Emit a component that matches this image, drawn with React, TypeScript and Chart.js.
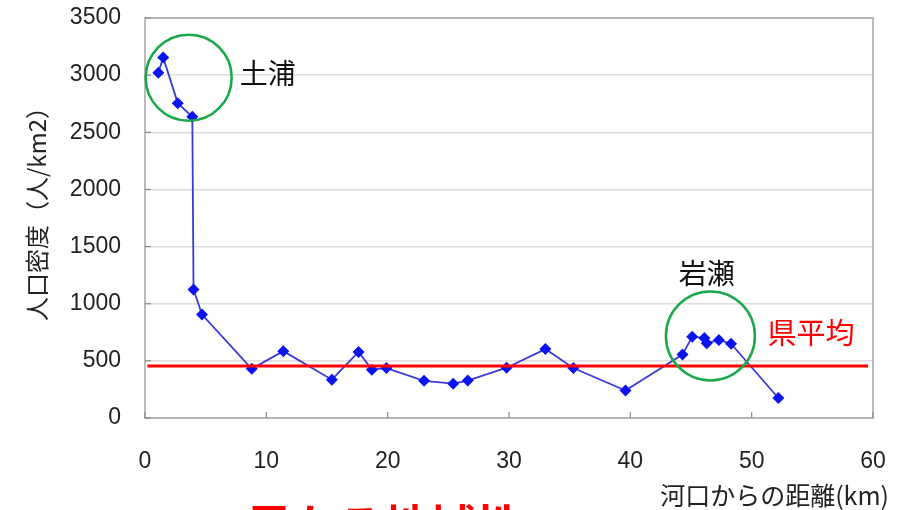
import React, { useEffect, useRef } from "react";
import { Chart, registerables } from "chart.js";

Chart.register(...registerables);

// ---- data ----
const distanceKm = [1.1, 1.5, 2.7, 3.9, 4.0, 4.7, 8.8, 11.4, 15.4, 17.6, 18.7, 19.9, 23.0, 25.4, 26.6, 29.8, 33.0, 35.3, 39.6, 44.3, 45.1, 46.1, 46.3, 47.3, 48.3, 52.2];
const density = [3020, 3155, 2755, 2635, 1125, 905, 430, 585, 335, 578, 423, 437, 325, 300, 328, 440, 603, 437, 240, 555, 712, 700, 655, 682, 650, 175];
const prefAverage = 456;
const prefAverageSpan = [0.2, 59.6];
const xTickValues = [0, 10, 20, 30, 40, 50, 60];
const yTickValues = [0, 500, 1000, 1500, 2000, 2500, 3000, 3500];

const xTitle = "河口からの距離(km)";
const yTitle = "人口密度（人/km2）";
const tsuchiuraLabel = "土浦";
const iwaseLabel = "岩瀬";
const avgLabel = "県平均";
const footerText = "異なる地域性";

// annotation anchors (data coordinates)
const circleTsuchiura = { x: 3.6, y: 2978 };
const circleIwase = { x: 46.6, y: 718 };
const tsuchiuraPos = { x: 7.8, y: 3013 };
const iwasePos = { x: 46.3, y: 1267 };
const avgLabelPos = { x: 51.3, y: 745 };

const CJK = "'Noto Sans CJK JP', 'Noto Sans', sans-serif";
const LATIN = "'Liberation Sans', Arial, sans-serif";

export default function App() {
  const ref = useRef<HTMLCanvasElement | null>(null);

  useEffect(() => {
    const canvas = ref.current;
    if (!canvas) return;

    const overlay = {
      id: "overlay",
      afterDraw(chart: any) {
        const ctx = chart.ctx as CanvasRenderingContext2D;
        const xs = chart.scales.x;
        const ys = chart.scales.y;
        const a = chart.chartArea;
        ctx.save();
        // plot box
        ctx.strokeStyle = "#a6a6a6";
        ctx.lineWidth = 1.5;
        ctx.strokeRect(a.left, a.top, a.right - a.left, a.bottom - a.top);
        // inside tick marks
        ctx.strokeStyle = "#8c8c8c";
        ctx.lineWidth = 1.2;
        xTickValues.forEach((v) => {
          const px = xs.getPixelForValue(v);
          ctx.beginPath();
          ctx.moveTo(px, a.bottom);
          ctx.lineTo(px, a.bottom - 6);
          ctx.stroke();
        });
        yTickValues.forEach((v) => {
          const py = ys.getPixelForValue(v);
          ctx.beginPath();
          ctx.moveTo(a.left, py);
          ctx.lineTo(a.left + 6, py);
          ctx.stroke();
        });
        // green circles
        ctx.strokeStyle = "#19a84a";
        ctx.lineWidth = 2.5;
        [
          { c: circleTsuchiura, r: 43 },
          { c: circleIwase, r: 44.5 },
        ].forEach(({ c, r }) => {
          ctx.beginPath();
          ctx.arc(xs.getPixelForValue(c.x), ys.getPixelForValue(c.y), r, 0, Math.PI * 2);
          ctx.stroke();
        });
        // labels
        ctx.textBaseline = "middle";
        ctx.textAlign = "left";
        ctx.fillStyle = "#111";
        ctx.font = `28px ${CJK}`;
        ctx.fillText(tsuchiuraLabel, xs.getPixelForValue(tsuchiuraPos.x), ys.getPixelForValue(tsuchiuraPos.y));
        ctx.textAlign = "center";
        ctx.fillText(iwaseLabel, xs.getPixelForValue(iwasePos.x), ys.getPixelForValue(iwasePos.y));
        ctx.textAlign = "left";
        ctx.fillStyle = "#ff0000";
        ctx.font = `29px ${CJK}`;
        ctx.fillText(avgLabel, xs.getPixelForValue(avgLabelPos.x), ys.getPixelForValue(avgLabelPos.y));
        // axis titles
        ctx.fillStyle = "#222";
        ctx.font = `25px ${CJK}`;
        ctx.textAlign = "right";
        ctx.fillText(xTitle, 889, 495);
        ctx.save();
        ctx.translate(37, 208);
        ctx.rotate(-Math.PI / 2);
        ctx.textAlign = "center";
        ctx.font = `24px ${CJK}`;
        ctx.fillText(yTitle, 0, 0);
        ctx.restore();
        // clipped footer text
        ctx.fillStyle = "#ff0000";
        ctx.font = `bold 46px ${CJK}`;
        ctx.textAlign = "left";
        ctx.textBaseline = "top";
        ctx.fillText(footerText, 246, 503);
        ctx.restore();
      },
    };

    const chart = new Chart(canvas, {
      type: "scatter",
      data: {
        datasets: [
          {
            label: avgLabel,
            data: prefAverageSpan.map((x) => ({ x, y: prefAverage })),
            showLine: true,
            borderColor: "#ff0000",
            borderWidth: 3,
            pointRadius: 0,
          },
          {
            label: "density",
            data: distanceKm.map((x, i) => ({ x, y: density[i] })),
            showLine: true,
            borderColor: "#3b3bd6",
            borderWidth: 1.8,
            pointStyle: "rectRot",
            pointRadius: 6,
            pointBackgroundColor: "#0a14ee",
            pointBorderColor: "#0a14ee",
            pointBorderWidth: 0,
          },
        ],
      },
      options: {
        animation: false,
        responsive: false,
        devicePixelRatio: 1,
        layout: { padding: { top: 18, right: 35, left: 0, bottom: 0 } },
        plugins: { legend: { display: false }, tooltip: { enabled: false } },
        scales: {
          x: {
            type: "linear",
            min: 0,
            max: 60,
            afterFit: (s: any) => {
              s.height = 92;
              s.paddingLeft = 0;
              s.paddingRight = 0;
            },
            afterBuildTicks: (s: any) => {
              s.ticks = xTickValues.map((v) => ({ value: v }));
            },
            grid: { display: false, drawTicks: false },
            border: { display: false },
            ticks: {
              padding: 30,
              color: "#222",
              font: { family: LATIN, size: 23 },
              callback: (v: any) => String(v),
            },
          },
          y: {
            min: 0,
            max: 3500,
            afterFit: (s: any) => {
              s.width = 145;
              s.paddingTop = 0;
              s.paddingBottom = 0;
            },
            afterBuildTicks: (s: any) => {
              s.ticks = yTickValues.map((v) => ({ value: v }));
            },
            grid: { color: "#dedede", lineWidth: 1.5, drawTicks: false },
            border: { display: false },
            ticks: {
              padding: 24,
              color: "#222",
              font: { family: LATIN, size: 23 },
              callback: (v: any) => String(v),
            },
          },
        },
      },
      plugins: [overlay],
    } as any);

    return () => chart.destroy();
  }, []);

  return (
    <div style={{ position: "absolute", left: 0, top: 0, width: 908, height: 510, background: "#fff", overflow: "hidden" }}>
      <canvas ref={ref} width={908} height={510} style={{ display: "block", width: 908, height: 510 }} />
    </div>
  );
}
